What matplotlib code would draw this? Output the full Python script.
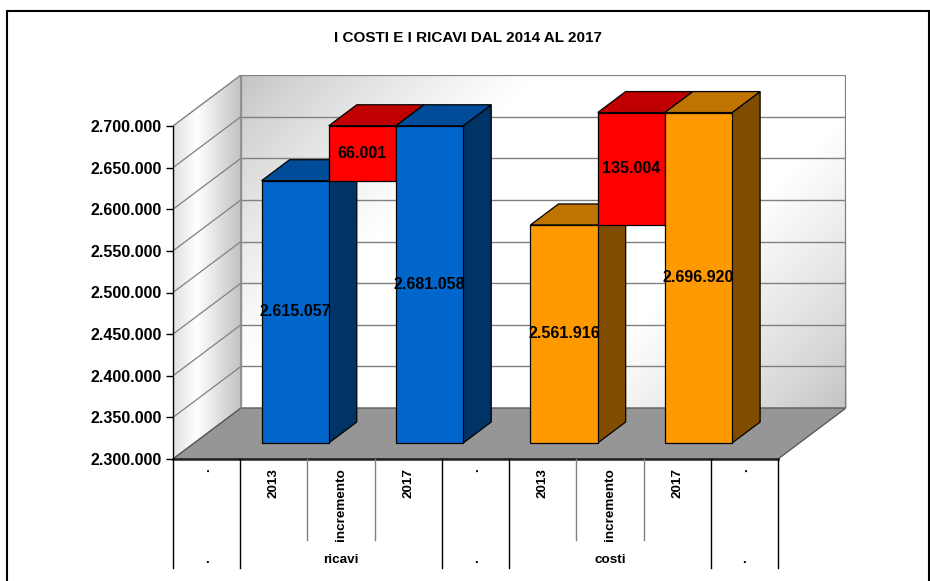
import numpy as np
import matplotlib
matplotlib.use("Agg")
import matplotlib.pyplot as plt
from matplotlib.patches import Polygon, Rectangle
from matplotlib.lines import Line2D
import matplotlib.transforms as mtransforms

plt.rcParams['font.family'] = ['Liberation Sans', 'DejaVu Sans']

# ---------------- data ----------------
title = "I COSTI E I RICAVI DAL 2014 AL 2017"
categories = [".", "2013", "incremento", "2017", ".", "2013", "incremento", "2017", "."]
groups = [".", "ricavi", ".", "costi", "."]
group_spans = [(0, 0), (1, 3), (4, 4), (5, 7), (8, 8)]
ricavi = [2615057, 66001, 2681058]      # 2013, incremento, 2017
costi = [2561916, 135004, 2696920]      # 2013, incremento, 2017
ricavi_slots = [1, 2, 3]
costi_slots = [5, 6, 7]
y_ticks = [2300000, 2350000, 2400000, 2450000, 2500000, 2550000, 2600000, 2650000, 2700000]

# ---------------- colours ----------------
BLUE = ("#0066CC", "#004C99", "#003366")
RED = ("#FF0000", "#C00000", "#800000")
ORANGE = ("#FF9900", "#BF7300", "#7F4C00")

def fmt(v):
    return f"{v:,}".replace(",", ".")

W, H = 930, 581
fig = plt.figure(figsize=(W / 100, H / 100), dpi=100)

YMIN, YMAX = y_ticks[0], y_ticks[-1]
NCAT = len(categories)
# front plane in pixels (from top-left)
XL, XR = 173, 778
YB, YT = 459, 126
DPX, DPY = 68, 51
px_cat = (XR - XL) / NCAT
px_val = (YB - YT) / (YMAX - YMIN)
DX = DPX / px_cat
DY = DPY / px_val

ax = fig.add_axes([XL / W, (H - YB) / H, (XR + DPX - XL) / W, (YB - YT + DPY) / H])
ax.set_xlim(-0.5, NCAT - 0.5 + DX)
ax.set_ylim(YMIN, YMAX + DY)
ax.patch.set_visible(False)
for s in ("top", "right", "bottom"):
    ax.spines[s].set_visible(False)
ax.spines["left"].set_bounds(YMIN, YMAX)
ax.spines["left"].set_linewidth(1.0)
ax.spines["left"].set_zorder(20)
ax.set_xticks([])
ax.set_yticks(y_ticks)
ax.set_yticklabels([fmt(v) for v in y_ticks], fontsize=11.5, fontweight="bold")
ax.tick_params(axis="y", length=5, width=1, pad=3, colors="black")

xa = -0.5
xb = NCAT - 0.5

# ---------------- back wall (gradient) ----------------
bw_w, bw_h = int(XR - XL), int(YB - YT)
uu, vv = np.meshgrid(np.linspace(0, 1, bw_w), np.linspace(0, 1, bw_h))
t = (uu * bw_w + vv * bw_h) / (bw_w + bw_h)
g = 1 - np.abs(2 * t - 1)
shade = 0.76 + 0.24 * np.clip(g * 1.6, 0, 1) ** 0.8
img = np.dstack([shade, shade, shade])
ax.imshow(img, extent=(xa + DX, xb + DX, YMIN + DY, YMAX + DY), origin="upper",
          aspect="auto", zorder=1, interpolation="bilinear")

# ---------------- left wall (gradient) ----------------
lw_poly = Polygon([(xa, YMIN), (xa, YMAX), (xa + DX, YMAX + DY), (xa + DX, YMIN + DY)],
                  closed=True, facecolor="none", edgecolor="none")
ax.add_patch(lw_poly)
u = np.linspace(0, 1, 100)
lshade = np.interp(u, [0, 0.35, 1.0], [0.88, 1.0, 0.76])
limg = np.dstack([np.tile(lshade, (10, 1))] * 3)
im2 = ax.imshow(limg, extent=(xa, xa + DX, YMIN, YMAX + DY), aspect="auto", zorder=1,
                interpolation="bilinear")
im2.set_clip_path(lw_poly)
ax.add_patch(Polygon([(xa, YMAX), (xa + DX, YMAX + DY), (xa + DX, YMIN + DY), (xa, YMIN)],
                     closed=False, facecolor="none", edgecolor="#808080", lw=1.0, zorder=2))

# ---------------- floor ----------------
ax.add_patch(Polygon([(xa, YMIN), (xb, YMIN), (xb + DX, YMIN + DY), (xa + DX, YMIN + DY)],
                     closed=True, facecolor="#969696", edgecolor="#5a5a5a", lw=1.0, zorder=2))

# ---------------- gridlines ----------------
for v in y_ticks[1:-1]:
    ax.add_line(Line2D([xa + DX, xb + DX], [v + DY, v + DY], color="#808080", lw=1.0, zorder=2))
    ax.add_line(Line2D([xa, xa + DX], [v, v + DY], color="#808080", lw=0.9, zorder=2))
# back wall border
ax.add_line(Line2D([xa + DX, xb + DX, xb + DX], [YMAX + DY, YMAX + DY, YMIN + DY],
                   color="#808080", lw=1.6, zorder=2))
ax.add_line(Line2D([xa + DX, xa + DX], [YMIN + DY, YMAX + DY], color="#909090", lw=1.0, zorder=2))
# front category axis line
ax.add_line(Line2D([xa, xb], [YMIN, YMIN], color="#222222", lw=1.8, zorder=19, clip_on=False))

# ---------------- bars ----------------
F0, FD = 16 / 51, 28 / 68

def bar3d(i, bottom, top, cols, z):
    x0 = i - 0.5 + F0 * DX
    x1 = x0 + 1
    y0 = bottom + F0 * DY
    y1 = top + F0 * DY
    ddx, ddy = FD * DX, FD * DY
    side = [(x1, y0), (x1 + ddx, y0 + ddy), (x1 + ddx, y1 + ddy), (x1, y1)]
    topf = [(x0, y1), (x1, y1), (x1 + ddx, y1 + ddy), (x0 + ddx, y1 + ddy)]
    front = [(x0, y0), (x1, y0), (x1, y1), (x0, y1)]
    for poly, c in ((side, cols[2]), (topf, cols[1]), (front, cols[0])):
        ax.add_patch(Polygon(poly, closed=True, facecolor=c, edgecolor="black",
                             lw=0.9, joinstyle="miter", zorder=z))
    return (x0 + x1) / 2, (y0 + y1) / 2

z = 5
for slots, vals, base_col in ((ricavi_slots, ricavi, BLUE), (costi_slots, costi, ORANGE)):
    specs = [(slots[0], YMIN, vals[0], base_col, vals[0]),
             (slots[1], vals[0], vals[0] + vals[1], RED, vals[1]),
             (slots[2], YMIN, vals[2], base_col, vals[2])]
    for i, b, tp, cols, lab in specs:
        cx, cy = bar3d(i, b, tp, cols, z)
        ax.text(cx, cy, fmt(lab), ha="center", va="center", fontsize=11.5,
                fontweight="bold", color="black", zorder=z + 0.5)
        z += 1

# ---------------- category labels ----------------
off1 = mtransforms.offset_copy(ax.transData, fig=fig, x=0, y=-9, units="dots")
for i, c in enumerate(categories):
    ax.text(i, YMIN, c, transform=off1, rotation=90, ha="center", va="top",
            fontsize=9.7, fontweight="bold", clip_on=False)
off2 = mtransforms.offset_copy(ax.transData, fig=fig, x=0, y=-101, units="dots")
for gname, (a, b) in zip(groups, group_spans):
    ax.text((a + b) / 2, YMIN, gname, transform=off2, ha="center", va="center",
            fontsize=9.7, fontweight="bold", clip_on=False)

# separators
blend = mtransforms.blended_transform_factory(ax.transData, fig.transFigure)
full_b = [xa] + [b + 0.5 for (a, b) in group_spans]
short_b = []
for (a, b) in group_spans:
    short_b += [k + 0.5 for k in range(a, b)]
for xbnd in full_b:
    fig.add_artist(Line2D([xbnd, xbnd], [(H - YB) / H, (H - 568) / H], transform=blend,
                          color="black", lw=1.0))
for xbnd in short_b:
    fig.add_artist(Line2D([xbnd, xbnd], [(H - YB) / H, (H - 540) / H], transform=blend,
                          color="#808080", lw=1.0))

# ---------------- title & frame ----------------
fig.text(468 / W, 1 - 38 / H, title, ha="center", va="center", fontsize=11, fontweight="bold")
fig.add_artist(Rectangle((7 / W, -0.05), 922 / W, (H - 11) / H + 0.05, transform=fig.transFigure,
                         fill=False, edgecolor="black", lw=1.5))

fig.savefig("out.png", dpi=100)
